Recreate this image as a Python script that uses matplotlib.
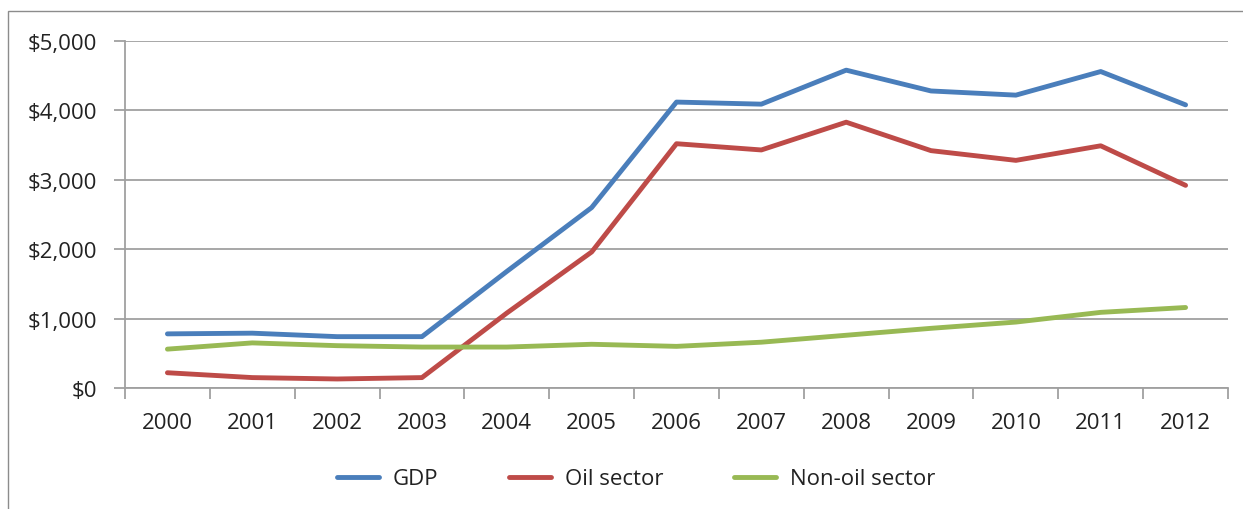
import numpy as np
import matplotlib.pyplot as plt
from matplotlib.patches import Rectangle
from matplotlib.ticker import FuncFormatter, FixedLocator

# ======================
# Data (million USD)
# ======================

years = [str(y) for y in range(2000, 2013)]
gdp = [780, 790, 740, 740, 1680, 2600, 4120, 4090, 4580, 4280, 4220, 4560, 4080]
oil_sector = [220, 150, 130, 150, 1080, 1960, 3520, 3430, 3830, 3420, 3280, 3490, 2920]
non_oil_sector = [560, 650, 610, 590, 590, 630, 600, 660, 760, 860, 950, 1090, 1160]

# ======================
# Figure
# ======================

plt.rcParams['font.family'] = ['Open Sans', 'DejaVu Sans']
FS = 16

fig = plt.figure(figsize=(12.43, 5.10), dpi=100)
ax = fig.add_axes([125 / 1243, 1 - 389 / 510, (1228 - 125) / 1243, (389 - 42) / 510])

# outer chart frame (runs off the right and bottom edge)
fig.patches.append(Rectangle((8 / 1243, -0.2), 1.2, 1 - 12 / 510 + 0.2,
                             transform=fig.transFigure, fill=False,
                             edgecolor='#8c8c8c', linewidth=1.0))

x = np.arange(len(years))
ax.plot(x, gdp, color='#4a7ebb', linewidth=3.5, solid_capstyle='round', label='GDP')
ax.plot(x, oil_sector, color='#be4b48', linewidth=3.5, solid_capstyle='round', label='Oil sector')
ax.plot(x, non_oil_sector, color='#98b954', linewidth=3.5, solid_capstyle='round', label='Non-oil sector')

ax.set_xlim(-0.5, len(years) - 0.5)
ax.set_ylim(0, 5000)

ax.set_yticks(range(0, 5001, 1000))
ax.yaxis.set_major_formatter(FuncFormatter(lambda v, p: f"${v:,.0f}"))
ax.grid(axis='y', color='#a0a0a0', linewidth=1.3)
ax.set_axisbelow(True)

# category labels centred, tick marks between categories
ax.xaxis.set_major_locator(FixedLocator(np.arange(-0.5, len(years))))
ax.xaxis.set_minor_locator(FixedLocator(x))
ax.set_xticklabels([])
ax.set_xticklabels(years, minor=True)
ax.tick_params(axis='x', which='major', length=8, width=1.3, color='#a0a0a0')
ax.tick_params(axis='x', which='minor', length=0, pad=17, labelsize=FS, labelcolor='#222222')
ax.tick_params(axis='y', length=8, width=1.3, color='#a0a0a0', pad=12,
               labelsize=FS, labelcolor='#222222')

for side in ['top', 'right']:
    ax.spines[side].set_visible(False)
for side in ['left', 'bottom']:
    ax.spines[side].set_color('#a0a0a0')
    ax.spines[side].set_linewidth(1.3)

leg = fig.legend(loc='center', bbox_to_anchor=(636 / 1243, 1 - 480 / 510),
                 ncol=3, frameon=False, fontsize=FS, handlelength=1.9,
                 handletextpad=0.6, columnspacing=3.2)
for t in leg.get_texts():
    t.set_color('#222222')

plt.savefig('out.png', dpi=100)
